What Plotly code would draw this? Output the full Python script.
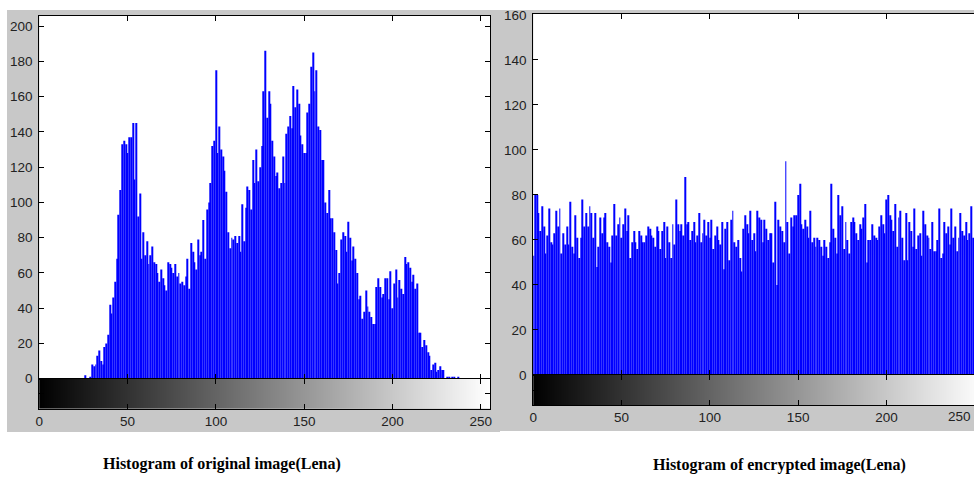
import plotly.graph_objects as go

# ---------------- data ----------------
orig_bins = list(range(256))
orig_counts = (
    [0] * 26 +
    [2, 0, 0, 1, 8, 7, 8, 13, 16, 10, 8, 18, 20, 25] +                      # 26-39
    [42, 37, 46, 55, 68, 93, 107, 133, 135, 133] +                           # 40-49
    [128, 137, 137, 145, 113, 145, 92, 105, 68, 83] +                        # 50-59
    [70, 78, 65, 70, 75, 66, 65, 60, 55, 62] +                               # 60-69
    [57, 53, 50, 66, 65, 63, 60, 65, 58, 60] +                               # 70-79
    [54, 55, 53, 58, 68, 51, 77, 72, 66, 62] +                               # 80-89
    [79, 70, 72, 90, 68, 96, 100, 111, 132, 135] +                           # 90-99
    [175, 128, 143, 130, 126, 118, 106, 83, 74, 80] +                        # 100-109
    [79, 81, 77, 81, 72, 99, 78, 97, 109, 107] +                             # 110-119
    [96, 124, 111, 130, 112, 120, 132, 163, 186, 148] +                      # 120-129
    [163, 156, 135, 126, 115, 117, 108, 111, 126, 111] +                     # 130-139
    [139, 143, 149, 142, 166, 154, 164, 156, 138, 133] +                     # 140-149
    [128, 128, 151, 156, 177, 185, 163, 175, 143, 141] +                     # 150-159
    [124, 124, 100, 94, 107, 91, 91, 83, 73, 54] +                           # 160-169
    [60, 79, 83, 81, 72, 89, 80, 67, 75, 68] +                               # 170-179
    [60, 45, 47, 34, 38, 50, 41, 38, 35, 31] +                               # 180-189
    [31, 52, 57, 52, 46, 48, 57, 57, 45, 61] +                               # 190-199
    [40, 54, 62, 46, 56, 51, 48, 69, 65, 66] +                               # 200-209
    [63, 55, 59, 51, 54, 26, 26, 18, 22, 19] +                               # 210-219
    [15, 13, 5, 8, 9, 4, 5, 7, 5, 5] +                                       # 220-229
    [0, 1, 1, 0, 1, 1, 0, 1, 0, 0] +                                         # 230-239
    [0] * 16                                                                 # 240-255
)

enc_bins = list(range(250))  # bins visible in the (cropped) right panel
enc_counts = (
    [53, 80, 80, 72, 64, 75, 66, 54, 62, 74] +                               # 0-9
    [59, 58, 63, 73, 66, 74, 54, 63, 58, 66] +                               # 10-19
    [58, 77, 57, 54, 71, 61, 52, 61, 78, 66] +                               # 20-29
    [72, 66, 75, 72, 61, 72, 48, 57, 70, 63] +                               # 30-39
    [70, 72, 59, 57, 50, 62, 76, 62, 67, 70] +                               # 40-49
    [61, 67, 74, 64, 71, 52, 59, 64, 59, 56] +                               # 50-59
    [64, 62, 59, 59, 62, 66, 65, 62, 61, 57] +                               # 60-69
    [66, 64, 56, 64, 68, 52, 66, 59, 52, 67] +                               # 70-79
    [58, 78, 67, 64, 67, 62, 88, 67, 68, 60] +                               # 80-89
    [64, 68, 59, 62, 72, 59, 63, 69, 62, 68] +                               # 90-99
    [61, 69, 56, 62, 66, 60, 58, 68, 47, 65] +                               # 100-109
    [68, 51, 69, 73, 59, 57, 60, 52, 46, 65] +                               # 110-119
    [71, 67, 63, 73, 60, 63, 55, 73, 70, 69] +                               # 120-129
    [59, 69, 65, 60, 63, 63, 50, 77, 40, 69] +                               # 130-139
    [66, 64, 59, 95, 68, 54, 70, 66, 71, 71] +                               # 140-149
    [80, 85, 67, 65, 69, 66, 61, 73, 59, 61] +                               # 150-159
    [57, 61, 60, 57, 53, 60, 57, 52, 59, 85] +                               # 160-169
    [65, 61, 54, 80, 71, 75, 56, 68, 60, 54] +                               # 170-179
    [68, 70, 68, 63, 60, 67, 65, 70, 76, 50] +                               # 180-189
    [60, 60, 67, 62, 61, 60, 66, 71, 67, 63] +                               # 190-199
    [78, 80, 71, 69, 64, 76, 57, 70, 73, 61] +                               # 200-209
    [51, 72, 51, 68, 64, 57, 74, 56, 62, 63] +                               # 210-219
    [53, 73, 67, 62, 61, 56, 68, 55, 55, 60] +                               # 220-229
    [74, 52, 54, 68, 63, 66, 58, 74, 61, 66] +                               # 230-239
    [55, 61, 72, 64, 62, 68, 60, 63, 75, 61]                                 # 240-249
)

gray_levels = list(range(256))
x_ticks = [0, 50, 100, 150, 200, 250]
y_ticks_orig = [0, 20, 40, 60, 80, 100, 120, 140, 160, 180, 200]
y_ticks_enc = [0, 20, 40, 60, 80, 100, 120, 140, 160]
captions = ["Histogram of original image(Lena)", "Histogram of encrypted image(Lena)"]

# ---------------- layout helpers ----------------
W, H = 974, 478


def px(x):
    return x / W


def py(y):
    return 1 - y / H


BLUE = "#0000ff"
GRAYBG = "#c8c8c8"
TICKFONT = dict(family="Liberation Sans, Arial, sans-serif", size=13.5, color="#222222")

fig = go.Figure()

fig.add_trace(go.Bar(x=orig_bins, y=orig_counts, marker=dict(color=BLUE, line=dict(width=0)),
                     xaxis="x", yaxis="y", hoverinfo="skip"))
fig.add_trace(go.Heatmap(z=[gray_levels], x=gray_levels, y=[0], colorscale=[[0, "#000000"], [1, "#ffffff"]],
                         zmin=0, zmax=255, showscale=False, xaxis="x2", yaxis="y2", hoverinfo="skip"))
fig.add_trace(go.Bar(x=enc_bins, y=enc_counts, marker=dict(color=BLUE, line=dict(width=0)),
                     xaxis="x3", yaxis="y3", hoverinfo="skip"))
fig.add_trace(go.Heatmap(z=[gray_levels], x=gray_levels, y=[0], colorscale=[[0, "#000000"], [1, "#ffffff"]],
                         zmin=0, zmax=255, showscale=False, xaxis="x4", yaxis="y4", hoverinfo="skip"))

base = dict(showline=True, linecolor="black", linewidth=1, ticks="inside", ticklen=5, tickwidth=1,
            tickcolor="black", showgrid=False, zeroline=False, tickfont=TICKFONT, fixedrange=True,
            automargin=False)

L_X = [px(39.3), px(490)]
R_X = [px(533.3), 1.0]
R_XMAX = 249.6  # right panel is cut off by the image edge

fig.update_layout(
    width=W, height=H, autosize=False,
    margin=dict(l=0, r=0, t=0, b=0, pad=0, autoexpand=False),
    paper_bgcolor="white", plot_bgcolor="white", showlegend=False, bargap=0.45,
    xaxis=dict(base, domain=L_X, range=[0, 255.2], tickvals=x_ticks, showticklabels=False,
               mirror="ticks", anchor="y"),
    yaxis=dict(base, domain=[py(378.7), py(15.7)], range=[0, 205.9], tickvals=y_ticks_orig,
               mirror="ticks", anchor="x", ticklabelstandoff=3),
    xaxis2=dict(base, domain=L_X, range=[0, 255.2], tickvals=x_ticks, mirror="ticks", anchor="y2"),
    yaxis2=dict(base, domain=[py(408.7), py(378.7)], range=[-0.5, 0.5], tickvals=[0],
                showticklabels=False, mirror="ticks", anchor="x2"),
    xaxis3=dict(base, domain=R_X, range=[0, R_XMAX], tickvals=x_ticks, showticklabels=False,
                mirror="ticks", anchor="y3"),
    yaxis3=dict(base, domain=[py(375), py(14)], range=[0, 160.4], tickvals=y_ticks_enc,
                mirror=False, anchor="x3", ticklabelstandoff=3),
    xaxis4=dict(base, domain=R_X, range=[0, R_XMAX], tickvals=x_ticks, mirror="ticks", anchor="y4"),
    yaxis4=dict(base, domain=[py(405), py(375)], range=[-0.5, 0.5], tickvals=[0],
                showticklabels=False, mirror=False, anchor="x4"),
)

shapes = [
    dict(type="rect", xref="paper", yref="paper", x0=px(7), x1=px(500), y0=py(432), y1=py(10),
         fillcolor=GRAYBG, line=dict(width=0), layer="below"),
    dict(type="rect", xref="paper", yref="paper", x0=px(500), x1=1.0, y0=py(431), y1=py(10),
         fillcolor=GRAYBG, line=dict(width=0), layer="below"),
    dict(type="rect", xref="paper", yref="paper", x0=L_X[0], x1=L_X[1], y0=py(378.7), y1=py(15.7),
         fillcolor="white", line=dict(width=0), layer="below"),
    dict(type="rect", xref="paper", yref="paper", x0=R_X[0], x1=R_X[1], y0=py(375), y1=py(14),
         fillcolor="white", line=dict(width=0), layer="below"),
]
fig.update_layout(shapes=shapes)

# last tick label of the right panel ("250") sits at the image edge: keep it fully visible
fig.add_annotation(text=str(x_ticks[-1]), xref="paper", yref="paper", x=0.999, y=py(416.5),
                   showarrow=False, font=TICKFONT, xanchor="right", yanchor="middle")

cap_font = dict(family="Liberation Serif, Times New Roman, serif", size=16, color="black")
fig.add_annotation(text="<b>" + captions[0] + "</b>", xref="paper", yref="paper", x=px(222), y=py(464),
                   showarrow=False, font=cap_font, xanchor="center", yanchor="middle")
fig.add_annotation(text="<b>" + captions[1] + "</b>", xref="paper", yref="paper", x=px(779.5), y=py(465),
                   showarrow=False, font=cap_font, xanchor="center", yanchor="middle")

fig.write_html("out.html", config={"displayModeBar": False, "responsive": False},
               post_script="document.body.style.margin='0';document.body.style.overflow='hidden';")
